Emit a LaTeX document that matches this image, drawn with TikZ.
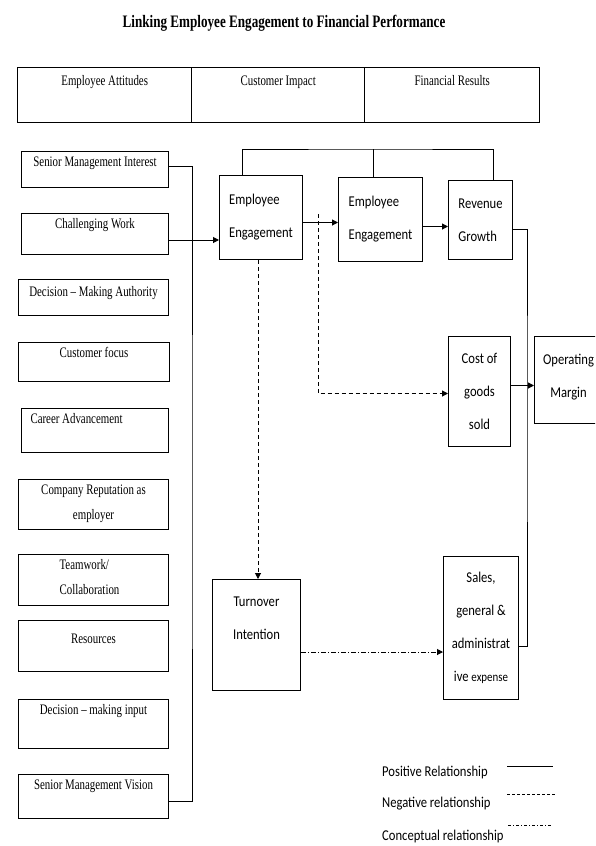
\documentclass[tikz,border=0pt]{standalone}
\usepackage{fontspec}
\setmainfont{Liberation Serif}
\newfontfamily\tnrfont[FakeStretch=0.75]{Liberation Serif}
\newfontfamily\calfont[FakeStretch=0.84]{Carlito}
\usetikzlibrary{arrows.meta,positioning}

\tikzset{
  lbox/.style={draw, line width=1pt, anchor=north west, inner sep=0pt},
  ltext/.style={anchor=north, yshift=-2pt, align=center,
    font=\tnrfont\fontsize{14.5}{25}\selectfont},
  cell/.style={draw, line width=1.4pt, anchor=north west, inner sep=0pt,
    minimum height=55pt},
  rbox/.style={draw, line width=1pt, anchor=north west, inner sep=0pt,
    align=center, font=\calfont\fontsize{15}{33}\selectfont},
  leg/.style={anchor=west, inner sep=0pt, font=\calfont\fontsize{15}{16}\selectfont},
  posline/.style={line width=1pt},
  negline/.style={line width=1pt, dash pattern=on 4pt off 3pt},
  conline/.style={line width=1pt, dash pattern=on 5pt off 2pt on 1pt off 2pt},
  arr/.style={-{Triangle[length=6pt,width=6pt]}}
}

\begin{document}
\begin{tikzpicture}[x=1pt,y=-1pt]
    \useasboundingbox (0,0) rectangle (595,846);
    \clip (0,0) rectangle (595,846);

    % Title
    \node[font=\tnrfont\bfseries\fontsize{17.5}{18}\selectfont] (title) at (284,23)
        {Linking Employee Engagement to Financial Performance};

    % Header table
    \node[cell, minimum width=174pt,
        label={[ltext, yshift=-3pt]north:Employee Attitudes}] (attitudes) at (17,67) {};
    \node[cell, minimum width=173pt,
        label={[ltext, yshift=-3pt]north:Customer Impact}] (impact) at (191,67) {};
    \node[cell, minimum width=175pt,
        label={[ltext, yshift=-3pt]north:Financial Results}] (results) at (364,67) {};

    % Employee attitude boxes
    \node[lbox, minimum width=147pt, minimum height=36pt,
        label={[ltext]north:Senior Management Interest}] (smi) at (21,151) {};
    \node[lbox, minimum width=147pt, minimum height=41pt,
        label={[ltext]north:Challenging Work}] (cw) at (21,213) {};
    \node[lbox, minimum width=150pt, minimum height=36pt,
        label={[ltext, yshift=-1.5pt]north:Decision – Making Authority}] (dma) at (18,279) {};
    \node[lbox, minimum width=151pt, minimum height=39pt,
        label={[ltext]north:Customer focus}] (cf) at (18,342) {};
    \node[lbox, minimum width=147pt, minimum height=44pt,
        label={[ltext, anchor=north west, xshift=6pt]north west:Career Advancement}] (ca) at (21,408) {};
    \node[lbox, minimum width=150pt, minimum height=50pt,
        label={[ltext]north:Company Reputation as\\employer}] (cr) at (18,479) {};
    \node[lbox, minimum width=150pt, minimum height=51pt,
        label={[ltext, align=left, xshift=-4pt]north:Teamwork/\\Collaboration}] (tw) at (18,554) {};
    \node[lbox, minimum width=150pt, minimum height=51pt,
        label={[ltext, yshift=-8pt]north:Resources}] (res) at (18,620) {};
    \node[lbox, minimum width=150pt, minimum height=49pt,
        label={[ltext]north:Decision – making input}] (dmi) at (18,699) {};
    \node[lbox, minimum width=150pt, minimum height=44pt,
        label={[ltext]north:Senior Management Vision}] (smv) at (18,774) {};

    % Engagement and financial boxes
    \node[rbox, align=left, minimum width=83pt, minimum height=84pt] (ee1) at (219,175)
        {Employee\\Engagement};
    \node[rbox, align=left, minimum width=84pt, minimum height=84pt] (ee2) at (338,177)
        {Employee\\Engagement};
    \node[rbox, align=left, minimum width=64pt, minimum height=79pt] (rg) at (448,180)
        {Revenue\\Growth};
    \node[rbox, minimum width=62pt, minimum height=110pt] (cgs) at (448,336)
        {Cost of\\goods\\sold};
    \node[rbox, minimum width=68pt, minimum height=87pt] (om) at (534,336)
        {Operating\\Margin\\[-25pt]};
    \node[rbox, minimum width=88pt, minimum height=111pt] (ti) at (212,579)
        {Turnover\\Intention\\ };
    \node[rbox, minimum width=75pt, minimum height=143pt] (sga) at (443,556)
        {Sales,\\general \&\\administrat\\ive {\fontsize{13}{33}\selectfont expense}};

    % Collector on the left
    \coordinate (bus) at (192,500);
    \draw[posline] ([yshift=3pt]smi.east) -| (bus) |- ([yshift=-5pt]smv.east);
    \draw[posline, arr] ([yshift=-6pt]cw.east) -- ([yshift=-6pt]cw.east -| ee1.west);

    % Top bracket
    \coordinate (brk) at (373,149);
    \draw[posline] ([xshift=-19pt]ee1.north) |- (brk) -| ([xshift=13pt]rg.north);
    \draw[posline] (brk) -- (brk |- ee2.north);

    % Positive links
    \draw[posline, arr] ([yshift=-5pt]ee1.east) -- ([yshift=-5pt]ee1.east -| ee2.west);
    \draw[posline, arr] ([yshift=-7pt]ee2.east) -- ([yshift=-7pt]ee2.east -| rg.west);
    \coordinate (rbus) at (527,400);
    \draw[posline] ([yshift=-9pt]rg.east) -| (rbus) |- ([yshift=-18pt]sga.east);
    \draw[posline, arr] ([yshift=6pt]cgs.east) -- ([yshift=6pt]cgs.east -| om.west);

    % Negative links
    \coordinate (split) at (318,214);
    \draw[negline, arr] (split) |- ([yshift=-2pt]cgs.west);
    \draw[negline, arr] ([xshift=-3pt]ee1.south) -- ([xshift=-3pt]ee1.south |- ti.north);

    % Conceptual link
    \draw[conline, arr] ([yshift=-17pt]ti.east) -- ([yshift=-17pt]ti.east -| sga.west);

    % Legend
    \node[leg] (legpos) at (382,772) {Positive Relationship};
    \node[leg] (legneg) at (382,804) {Negative relationship};
    \node[leg] (legcon) at (382,836) {Conceptual relationship};
    \coordinate (lp) at (507,766);
    \coordinate (ln) at (507,794);
    \coordinate (lc) at (508,825);
    \draw[posline] (lp) -- ++(46,0);
    \draw[negline, dash pattern=on 3pt off 2pt] (ln) -- ++(48,0);
    \draw[conline, dash pattern=on 3pt off 2pt on 1pt off 2pt] (lc) -- ++(44,0);
\end{tikzpicture}
\end{document}
